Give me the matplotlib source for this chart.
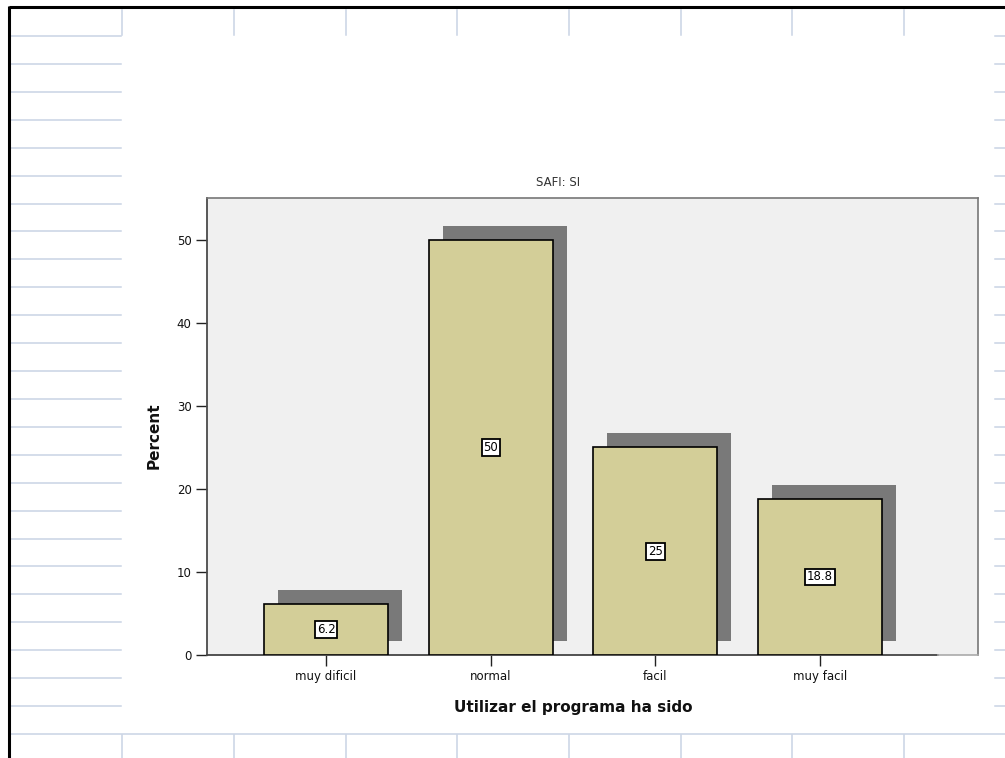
import numpy as np
import matplotlib.pyplot as plt
from matplotlib.transforms import ScaledTranslation, blended_transform_factory

# Datos del grafico
categorias = ['muy dificil', 'normal', 'facil', 'muy facil']
porcentajes = [6.2, 50, 25, 18.8]
etiquetas = ['6.2', '50', '25', '18.8']
yticks = [0, 10, 20, 30, 40, 50]

W, H = 1005, 758
fig = plt.figure(figsize=(W / 100, H / 100), dpi=100)
fig.patch.set_facecolor('white')

# Fondo tipo hoja de calculo (coordenadas en pixeles)
fondo = fig.add_axes([0, 0, 1, 1], zorder=0)
fondo.set_xlim(0, W)
fondo.set_ylim(H, 0)
fondo.axis('off')
gris_celda = '#C9D3E4'
cols = [122, 234, 346, 457, 569, 681, 792, 904]
filas = [36 + 27.92 * k for k in range(26)]
for cx in cols:
    fondo.plot([cx, cx], [10, 35], color=gris_celda, lw=1.1)
    fondo.plot([cx, cx], [735, H], color=gris_celda, lw=1.1)
for fy in filas[:-1]:
    fondo.plot([11, 121], [fy, fy], color=gris_celda, lw=1.1)
    fondo.plot([995, W], [fy, fy], color=gris_celda, lw=1.1)
fondo.plot([11, W], [filas[-1], filas[-1]], color=gris_celda, lw=1.1)
# borde negro de la ventana
fondo.plot([9, W], [7, 7], color='black', lw=2.2, solid_capstyle='butt')
fondo.plot([9, 9], [6, H], color='black', lw=2.2, solid_capstyle='butt')

# Area del grafico
ax = fig.add_axes([207 / W, (H - 655) / H, (978 - 207) / W, (655 - 198) / H], zorder=1)
ax.set_facecolor('#F0F0F0')
x = np.arange(len(categorias))
ancho = 0.753

# sombra desplazada de cada barra
sombra = ax.transData + ScaledTranslation(14 / 100, 14 / 100, fig.dpi_scale_trans)
ax.bar(x, porcentajes, ancho, color='#797979', transform=sombra, zorder=2)
ax.bar(x, porcentajes, ancho, color='#D3CE98', edgecolor='black', linewidth=1.2, zorder=3)

for xi, v, t in zip(x, porcentajes, etiquetas):
    ax.text(xi, v / 2, t, ha='center', va='center', fontsize=8.5, color='black', zorder=4,
            bbox=dict(boxstyle='square,pad=0.15', facecolor='white', edgecolor='black', linewidth=1.3))

ax.set_xlim(-0.723, 3.96)
ax.set_ylim(0, 55.06)
ax.set_yticks(yticks)
ax.set_xticks(x)
ax.set_xticklabels(categorias)
ax.tick_params(axis='both', direction='out', length=8, width=1, color='#222222',
               labelsize=8.5, labelcolor='#111111', pad=3)

for lado in ['top', 'right']:
    ax.spines[lado].set_color('#777777')
    ax.spines[lado].set_linewidth(1.2)
ax.spines['left'].set_color('#4A4A4A')
ax.spines['left'].set_linewidth(1.3)
ax.spines['bottom'].set_color('#444444')
ax.spines['bottom'].set_linewidth(1.3)
ax.spines['bottom'].set_bounds(-0.723, 3.716)
ax.axhline(0, xmin=(3.716 + 0.723) / (3.96 + 0.723), xmax=1, color='#AAAAAA', lw=1.2,
           clip_on=False, zorder=5)

# Titulos y etiquetas de los ejes
ax.text(0.455, 1.033, 'SAFI: SI', transform=ax.transAxes, ha='center', va='center',
        fontsize=8.5, color='#333333')
tr = blended_transform_factory(ax.transData, ax.transAxes)
ax.text(1.5, -0.115, 'Utilizar el programa ha sido', transform=tr, ha='center', va='center',
        fontsize=11, fontweight='bold', color='#111111')
ax.text(-0.068, 0.48, 'Percent', transform=ax.transAxes, rotation=90, ha='center',
        va='center', fontsize=11, fontweight='bold', color='#111111')

fig.savefig('out.png', dpi=100)
